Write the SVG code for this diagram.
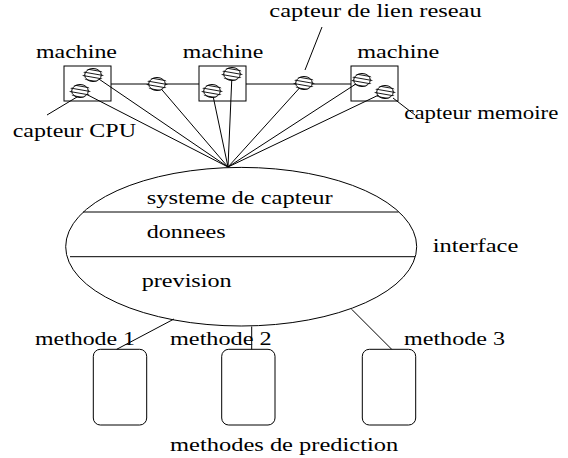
<svg xmlns="http://www.w3.org/2000/svg" width="568" height="458" viewBox="0 0 568 458" font-family="Liberation Serif, DejaVu Serif, serif" font-size="18">
<style>
.ln{stroke:#000;stroke-width:1;fill:none}
.sh{stroke:#000;stroke-width:0.9;fill:none}
</style>
<defs>
<clipPath id="sc"><ellipse cx="0" cy="0" rx="10.5" ry="6.8"/></clipPath>
<g id="sensor">
<ellipse cx="0" cy="0" rx="8.3" ry="6.5" fill="#fff" stroke="#000" stroke-width="1"/>
<g clip-path="url(#sc)" class="sh">
<line x1="-12" y1="-7" x2="12" y2="-2.8"/>
<line x1="-12" y1="-3.4" x2="12" y2="0.8"/>
<line x1="-12" y1="0.2" x2="12" y2="4.4"/>
<line x1="-12" y1="3.8" x2="12" y2="8"/>
</g>
</g>
</defs>
<g id="connectors">
<line class="ln" x1="111" y1="84" x2="199" y2="84"/>
<line class="ln" x1="246" y1="84" x2="351" y2="84"/>
<line class="ln" x1="80" y1="91" x2="228" y2="167"/>
<line class="ln" x1="93" y1="75" x2="228" y2="167"/>
<line class="ln" x1="157" y1="84" x2="228" y2="167"/>
<line class="ln" x1="212" y1="91" x2="228" y2="167"/>
<line class="ln" x1="232" y1="74" x2="228" y2="167"/>
<line class="ln" x1="304" y1="83" x2="228" y2="167"/>
<line class="ln" x1="362" y1="80" x2="228" y2="167"/>
<line class="ln" x1="385" y1="92" x2="228" y2="167"/>
<line class="ln" x1="47" y1="115" x2="77" y2="97"/>
<line class="ln" x1="322" y1="27" x2="305" y2="70"/>
<line class="ln" x1="393" y1="98" x2="415" y2="115"/>
<line class="ln" x1="174" y1="319" x2="116.7" y2="349.3"/>
<line class="ln" x1="251.7" y1="326.5" x2="251.7" y2="349.3"/>
<line class="ln" x1="351.7" y1="309.3" x2="391.7" y2="349.3"/>
</g>
<g id="machine1">
<rect class="ln" x="64" y="66" width="47" height="35"/>
<use href="#sensor" x="93" y="75"/>
<use href="#sensor" x="80" y="91"/>
<text x="36" y="58" textLength="81" lengthAdjust="spacingAndGlyphs">machine</text>
</g>
<g id="machine2">
<rect class="ln" x="199" y="66" width="47" height="35"/>
<use href="#sensor" x="232" y="74"/>
<use href="#sensor" x="212" y="91"/>
<text x="182.7" y="58" textLength="80.6" lengthAdjust="spacingAndGlyphs">machine</text>
</g>
<g id="machine3">
<rect class="ln" x="351" y="66" width="47" height="35"/>
<use href="#sensor" x="362" y="80"/>
<use href="#sensor" x="385" y="92"/>
<text x="357.3" y="58" textLength="82" lengthAdjust="spacingAndGlyphs">machine</text>
</g>
<g id="netsensor1">
<use href="#sensor" x="157" y="84"/>
</g>
<g id="netsensor2">
<use href="#sensor" x="304" y="83"/>
</g>
<g id="labels">
<text x="12.7" y="137" textLength="123.3" lengthAdjust="spacingAndGlyphs">capteur CPU</text>
<text x="269.3" y="17.3" textLength="212.4" lengthAdjust="spacingAndGlyphs">capteur de lien reseau</text>
<text x="404.3" y="119" textLength="154" lengthAdjust="spacingAndGlyphs">capteur memoire</text>
</g>
<g id="interface">
<ellipse class="ln" cx="241.2" cy="246.7" rx="175.5" ry="79.3"/>
<line class="ln" x1="83" y1="212" x2="398.5" y2="212"/>
<line class="ln" x1="70" y1="256.7" x2="415" y2="256.7"/>
<text x="146.7" y="204" textLength="186" lengthAdjust="spacingAndGlyphs">systeme de capteur</text>
<text x="146.7" y="238" textLength="79" lengthAdjust="spacingAndGlyphs">donnees</text>
<text x="141.7" y="287" textLength="90" lengthAdjust="spacingAndGlyphs">prevision</text>
<text x="432.7" y="251.5" textLength="85.6" lengthAdjust="spacingAndGlyphs">interface</text>
</g>
<g id="methode1">
<rect class="ln" x="93.3" y="349.3" width="53.4" height="75.7" rx="7" ry="7"/>
<text x="35" y="345" textLength="100" lengthAdjust="spacingAndGlyphs">methode 1</text>
</g>
<g id="methode2">
<rect class="ln" x="221.7" y="349.3" width="53.3" height="75.7" rx="7" ry="7"/>
<text x="170" y="345" textLength="101.7" lengthAdjust="spacingAndGlyphs">methode 2</text>
</g>
<g id="methode3">
<rect class="ln" x="362.3" y="349.3" width="53.4" height="75.7" rx="7" ry="7"/>
<text x="404" y="345" textLength="101" lengthAdjust="spacingAndGlyphs">methode 3</text>
</g>
<g id="caption">
<text x="170" y="451" textLength="228.3" lengthAdjust="spacingAndGlyphs">methodes de prediction</text>
</g>
</svg>
